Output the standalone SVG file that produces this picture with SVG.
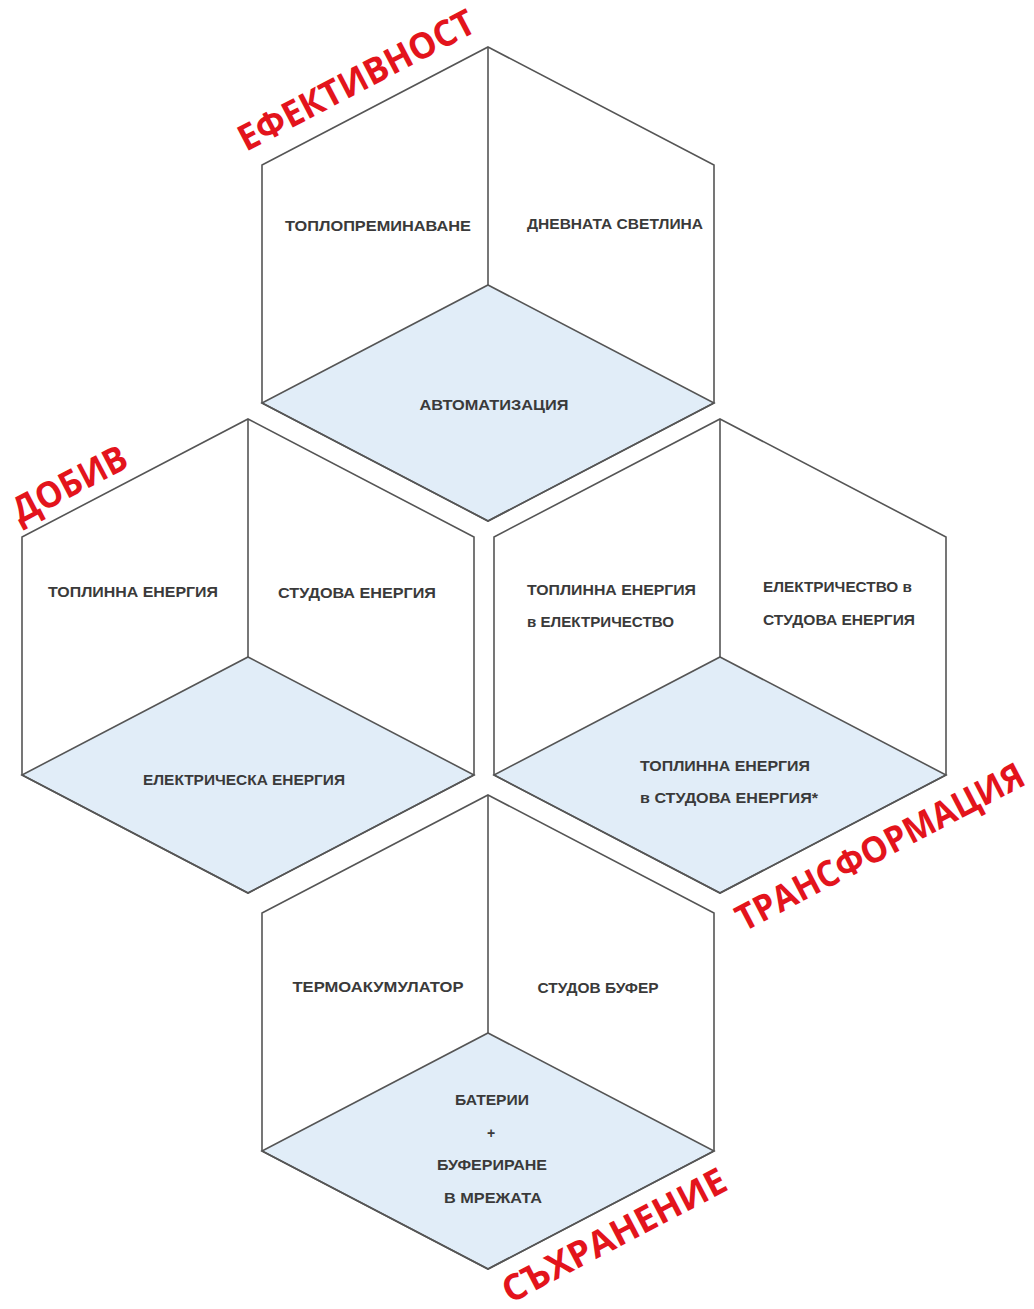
<svg xmlns="http://www.w3.org/2000/svg" width="1034" height="1309" viewBox="0 0 1034 1309">
<style>
.hex{fill:none;stroke:#555;stroke-width:1.6;stroke-linejoin:miter}
.rh{fill:#e1edf8;stroke:#555;stroke-width:1.6}
.ln{stroke:#555;stroke-width:1.6;fill:none}
.t{font-family:"Liberation Sans",Arial,sans-serif;font-weight:bold;font-size:14px;fill:#3a3a3a}
.c{text-anchor:middle}
.lab{font-family:"Open Sans","Liberation Sans",Arial,sans-serif;font-weight:bold;font-size:36px;fill:#e3141c}
</style>
<rect width="1034" height="1309" fill="#fff"/>
<g id="cube-efektivnost">
<path class="rh" d="M488,285 L714,403 L488,521 L262,403 Z"/>
<path class="hex" d="M488,47 L714,165 L714,403 L488,521 L262,403 L262,165 Z"/>
<path class="ln" d="M488,47 L488,285"/>
<text class="t c" x="378" y="231" textLength="186" lengthAdjust="spacingAndGlyphs">ТОПЛОПРЕМИНАВАНЕ</text>
<text class="t c" x="615" y="229" textLength="176" lengthAdjust="spacingAndGlyphs">ДНЕВНАТА СВЕТЛИНА</text>
<text class="t c" x="494" y="410" textLength="149" lengthAdjust="spacingAndGlyphs">АВТОМАТИЗАЦИЯ</text>
</g>
<g id="cube-dobiv">
<path class="rh" d="M248,657 L474,775 L248,893 L22,775 Z"/>
<path class="hex" d="M248,419 L474,537 L474,775 L248,893 L22,775 L22,537 Z"/>
<path class="ln" d="M248,419 L248,657"/>
<text class="t c" x="133" y="597" textLength="170" lengthAdjust="spacingAndGlyphs">ТОПЛИННА ЕНЕРГИЯ</text>
<text class="t c" x="357" y="598" textLength="158" lengthAdjust="spacingAndGlyphs">СТУДОВА  ЕНЕРГИЯ</text>
<text class="t c" x="244" y="785" textLength="202" lengthAdjust="spacingAndGlyphs">ЕЛЕКТРИЧЕСКА ЕНЕРГИЯ</text>
</g>
<g id="cube-transformacia">
<path class="rh" d="M720,657 L946,775 L720,893 L494,775 Z"/>
<path class="hex" d="M720,419 L946,537 L946,775 L720,893 L494,775 L494,537 Z"/>
<path class="ln" d="M720,419 L720,657"/>
<text class="t" x="527" y="595" textLength="169" lengthAdjust="spacingAndGlyphs">ТОПЛИННА ЕНЕРГИЯ</text>
<text class="t" x="527" y="627" textLength="147" lengthAdjust="spacingAndGlyphs">в ЕЛЕКТРИЧЕСТВО</text>
<text class="t" x="763" y="592" textLength="149" lengthAdjust="spacingAndGlyphs">ЕЛЕКТРИЧЕСТВО в</text>
<text class="t" x="763" y="625" textLength="152" lengthAdjust="spacingAndGlyphs">СТУДОВА ЕНЕРГИЯ</text>
<text class="t" x="640" y="771" textLength="170" lengthAdjust="spacingAndGlyphs">ТОПЛИННА ЕНЕРГИЯ</text>
<text class="t" x="640" y="803" textLength="178" lengthAdjust="spacingAndGlyphs">в СТУДОВА ЕНЕРГИЯ*</text>
</g>
<g id="cube-sahranenie">
<path class="rh" d="M488,1033 L714,1151 L488,1269 L262,1151 Z"/>
<path class="hex" d="M488,795 L714,913 L714,1151 L488,1269 L262,1151 L262,913 Z"/>
<path class="ln" d="M488,795 L488,1033"/>
<text class="t c" x="378" y="992" textLength="171" lengthAdjust="spacingAndGlyphs">ТЕРМОАКУМУЛАТОР</text>
<text class="t c" x="598" y="993" textLength="121" lengthAdjust="spacingAndGlyphs">СТУДОВ БУФЕР</text>
<text class="t c" x="492" y="1105" textLength="74" lengthAdjust="spacingAndGlyphs">БАТЕРИИ</text>
<text class="t c" x="491" y="1138">+</text>
<text class="t c" x="492" y="1170" textLength="110" lengthAdjust="spacingAndGlyphs">БУФЕРИРАНЕ</text>
<text class="t c" x="493" y="1203" textLength="98" lengthAdjust="spacingAndGlyphs">В МРЕЖАТА</text>
</g>
<g id="labels">
<text class="lab" transform="translate(246,152) rotate(-27.6)" textLength="262" lengthAdjust="spacingAndGlyphs">ЕФЕКТИВНОСТ</text>
<text class="lab" transform="translate(20,524) rotate(-27.6)" textLength="125" lengthAdjust="spacingAndGlyphs">ДОБИВ</text>
<text class="lab" transform="translate(744,932) rotate(-27.6)" textLength="320" lengthAdjust="spacingAndGlyphs">ТРАНСФОРМАЦИЯ</text>
<text class="lab" transform="translate(510,1304) rotate(-27.6)" textLength="248" lengthAdjust="spacingAndGlyphs">СЪХРАНЕНИЕ</text>
</g>
</svg>
